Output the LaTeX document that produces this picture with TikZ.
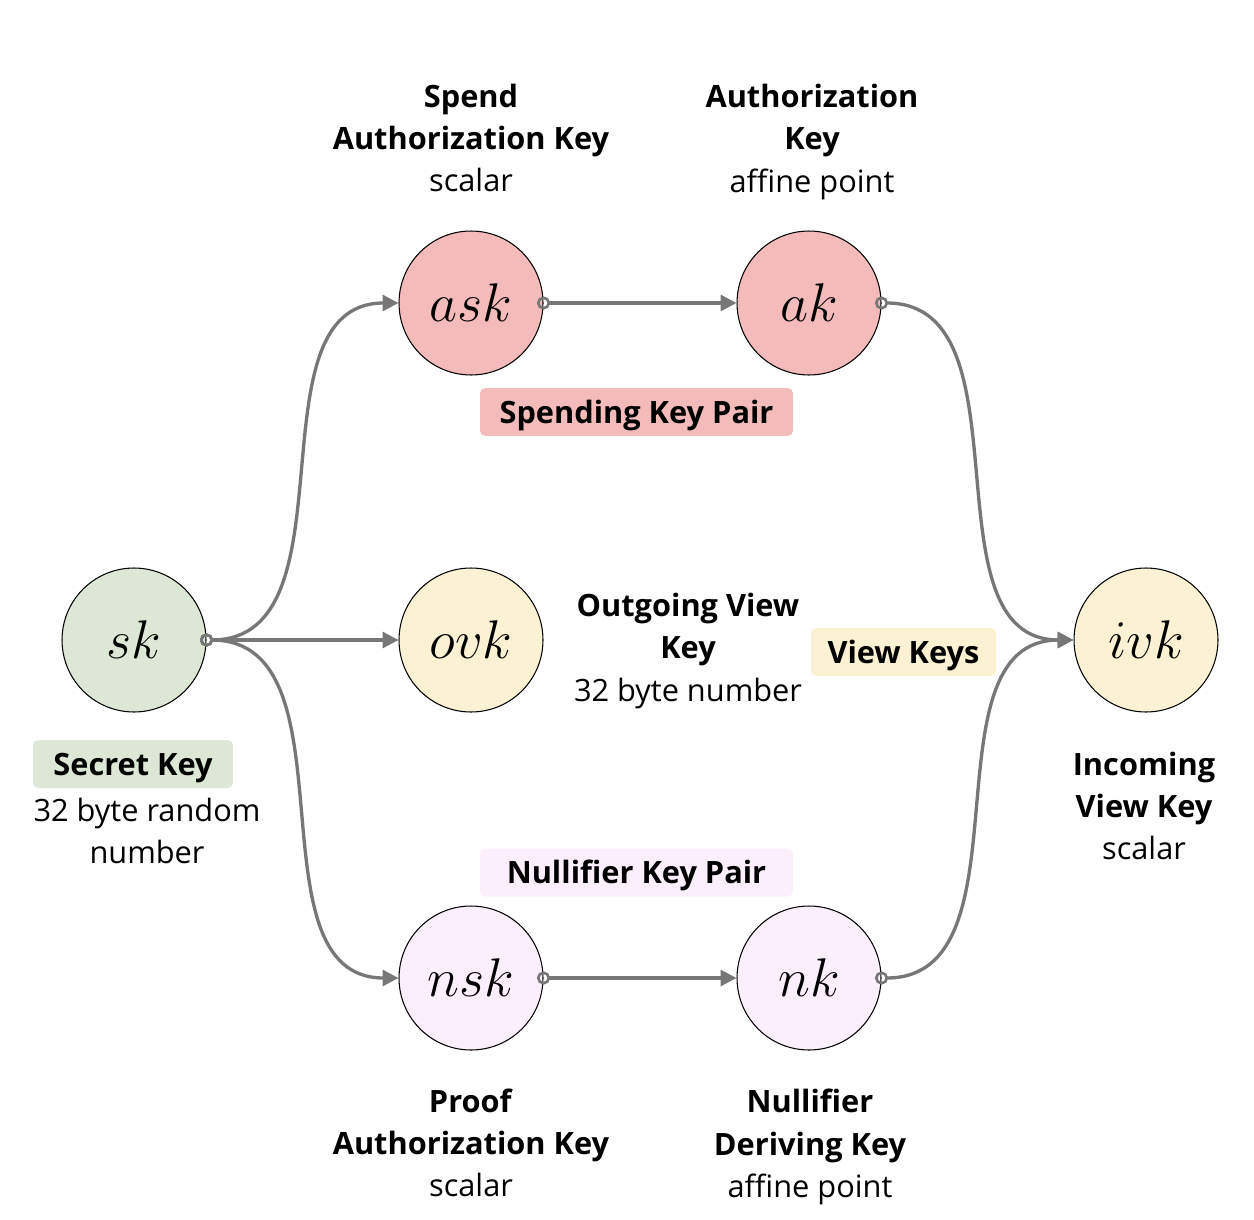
\RequirePackage{fix-cm}
\documentclass[tikz,border=0pt]{standalone}
\usepackage{fontspec}
\setmainfont{Open Sans}
\usepackage{xcolor}
\usepackage{tikz}
\usetikzlibrary{arrows.meta}
\definecolor{skgreen}{HTML}{DDE7D6}
\definecolor{spendpink}{HTML}{F4BBBB}
\definecolor{viewyellow}{HTML}{FCF1D3}
\definecolor{nullpurple}{HTML}{FBEFFC}
\definecolor{linegray}{HTML}{777777}
\tikzstyle{key} = [draw, circle, line width=0.6pt, minimum size=2.88cm, inner sep=0pt, font=\fontsize{31}{38}\selectfont]
\tikzstyle{info} = [align=center, inner sep=0pt, font=\fontsize{17.5}{24}\selectfont]
\tikzstyle{group} = [rounded corners=3pt, inner sep=0pt, minimum height=0.96cm, text height=16.6pt, text depth=4pt, font=\fontsize{17.5}{24}\selectfont\bfseries]

\begin{document}
\begin{tikzpicture}[x=0.02cm, y=-0.02cm, >={Triangle[length=9pt, width=9pt]}]
        \tikzstyle{link} = [draw=linegray, line width=1.9pt, {Circle[open, length=7.5pt, line width=1.5pt]}->, shorten <=-3.75pt]
        \useasboundingbox (0,0) rectangle (1254,1220);

        % keys
        \node [key, fill=skgreen] (sk) at (134,640) {$sk$};
        \node [key, fill=spendpink] (ask) at (471,303) {$ask$};
        \node [key, fill=spendpink] (ak) at (809,303) {$ak$};
        \node [key, fill=viewyellow] (ovk) at (471,640) {$ovk$};
        \node [key, fill=viewyellow] (ivk) at (1146,640) {$ivk$};
        \node [key, fill=nullpurple] (nsk) at (471,978) {$nsk$};
        \node [key, fill=nullpurple] (nk) at (809,978) {$nk$};

        % group labels
        \node [group, fill=spendpink, minimum width=6.26cm] (spendpair) at (636.5,412) {Spending Key Pair};
        \node [group, fill=skgreen, minimum width=4cm] (secret) at (133,764) {Secret Key};
        \node [group, fill=viewyellow, minimum width=3.7cm] (viewkeys) at (903.5,652) {View Keys};
        \node [group, fill=nullpurple, minimum width=6.26cm] (nullpair) at (636.5,872.5) {Nullifier Key Pair};

        % descriptions
        \node [info] (askinfo) at (471,138) {\textbf{Spend}\\\textbf{Authorization Key}\\scalar};
        \node [info] (akinfo) at (812,142) {\textbf{Authorization}\\\textbf{Key}\\affine point};
        \node [info] (ovkinfo) at (688,651) {\textbf{Outgoing View}\\\textbf{Key}\\32 byte number};
        \node [info] (ivkinfo) at (1144,806) {\textbf{Incoming}\\\textbf{View Key}\\scalar};
        \node [info] (skinfo) at (147,831) {32 byte random\\number};
        \node [info] (nskinfo) at (471,1143) {\textbf{Proof}\\\textbf{Authorization Key}\\scalar};
        \node [info] (nkinfo) at (810,1147) {\textbf{Nullifier}\\\textbf{Deriving Key}\\affine point};

        % derivations
        \draw [link] (sk.east) to[out=0, in=180] (ask.west);
        \draw [link] (sk.east) -- (ovk.west);
        \draw [link] (sk.east) to[out=0, in=180] (nsk.west);
        \draw [link] (ask.east) -- (ak.west);
        \draw [link] (nsk.east) -- (nk.west);
        \draw [link] (ak.east) to[out=0, in=180] (ivk.west);
        \draw [link] (nk.east) to[out=0, in=180] (ivk.west);
    \end{tikzpicture}
\end{document}
